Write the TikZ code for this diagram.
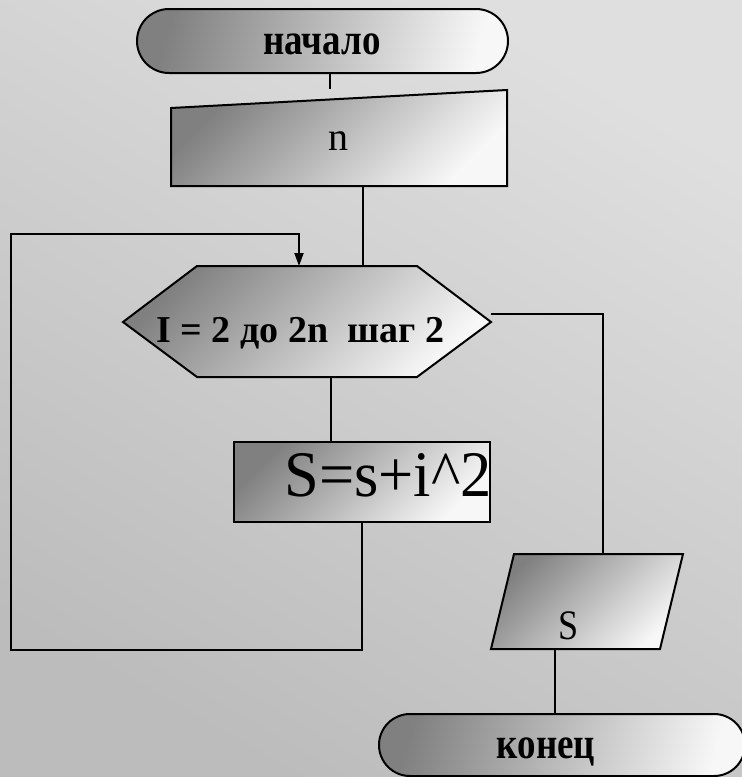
\documentclass[tikz,border=0pt]{standalone}
\usepackage{fontspec}
\setmainfont{Liberation Serif}
\usetikzlibrary{shapes.misc,arrows.meta}

\definecolor{boxdark}{RGB}{128,128,128}
\definecolor{boxlight}{RGB}{247,247,247}
\definecolor{bgdark}{RGB}{188,188,188}
\definecolor{bglight}{RGB}{223,223,223}

% narrow lettering
\newcommand{\narrow}[2][0.84]{\scalebox{#1}[1]{#2}}

\tikzset{
  blk/.style={draw=black, line width=1pt, top color=boxdark, bottom color=boxlight, shading angle=45},
  term/.style={blk, rounded rectangle, shading angle=75, inner sep=0pt},
  ln/.style={line width=1pt},
  btxt/.style={font=\bfseries\fontsize{22}{26}\selectfont, inner sep=0pt},
  rtxt/.style={font=\fontsize{20}{24}\selectfont, inner sep=0pt}
}

\begin{document}
\begin{tikzpicture}[x=0.5pt, y=-0.5pt]
  \tikzset{>={Triangle[length=6.5pt,width=4.5pt]}}
  \useasboundingbox (0,0) rectangle (742,777);
  \shade[top color=bglight, bottom color=bgdark, shading angle=-30] (0,0) rectangle (742,777);

  % blocks
  \node[term, minimum width=185.5pt, minimum height=32pt] (start) at (322.5,41) {};
  \node[btxt, anchor=base] (startT) at (322,54) {\narrow{начало}};

  \draw[blk] (171,108) -- (507,90) -- (507,186) -- (171,186) -- cycle;
  \node[rtxt, anchor=base] (nT) at (338,150) {n};

  \draw[blk] (123,322) -- (197,266) -- (417,266) -- (491,322) -- (417,377) -- (197,377) -- cycle;
  \node[btxt, font=\bfseries\fontsize{19}{23}\selectfont, anchor=base west] (loopT) at (156,342) {I = 2 до 2n\ \ шаг 2};

  \node[blk, rectangle, minimum width=128pt, minimum height=40pt] (body) at (362,482) {};
  \node[rtxt, font=\fontsize{32.5}{36}\selectfont, anchor=base west] (bodyT) at (284,496) {\narrow[0.96]{S=s+i\textasciicircum 2}};

  \draw[blk] (514,554) -- (683,554) -- (660,649) -- (491,649) -- cycle;
  \node[rtxt, font=\fontsize{21}{25}\selectfont, anchor=base] (outT) at (569,639) {\narrow[0.86]{S}};

  \node[term, minimum width=183pt, minimum height=31pt] (stop) at (562,745) {};
  \node[btxt, anchor=base] (stopT) at (546,758) {\narrow{конец}};

  % connectors
  \coordinate (inTop) at (330,89);
  \coordinate (inB) at (363,186);
  \coordinate (hexT) at (363,266);
  \coordinate (hexArr) at (299,266);
  \coordinate (hexB) at (331,377);
  \coordinate (hexE) at (491,314);
  \coordinate (backL) at (11,650);
  \coordinate (backT) at (11,234);
  \coordinate (paraT) at (603,554);
  \coordinate (paraB) at (555,649);

  \draw[ln] (start.south -| inTop) -- (inTop);
  \draw[ln] (inB) -- (hexT);
  \draw[ln] (hexB) -- (body.north -| hexB);
  \draw[ln,->] (body.south) |- (backL) -- (backT) -| (hexArr);
  \draw[ln] (hexE) -| (paraT);
  \draw[ln] (paraB) -- (stop.north -| paraB);
\end{tikzpicture}
\end{document}
